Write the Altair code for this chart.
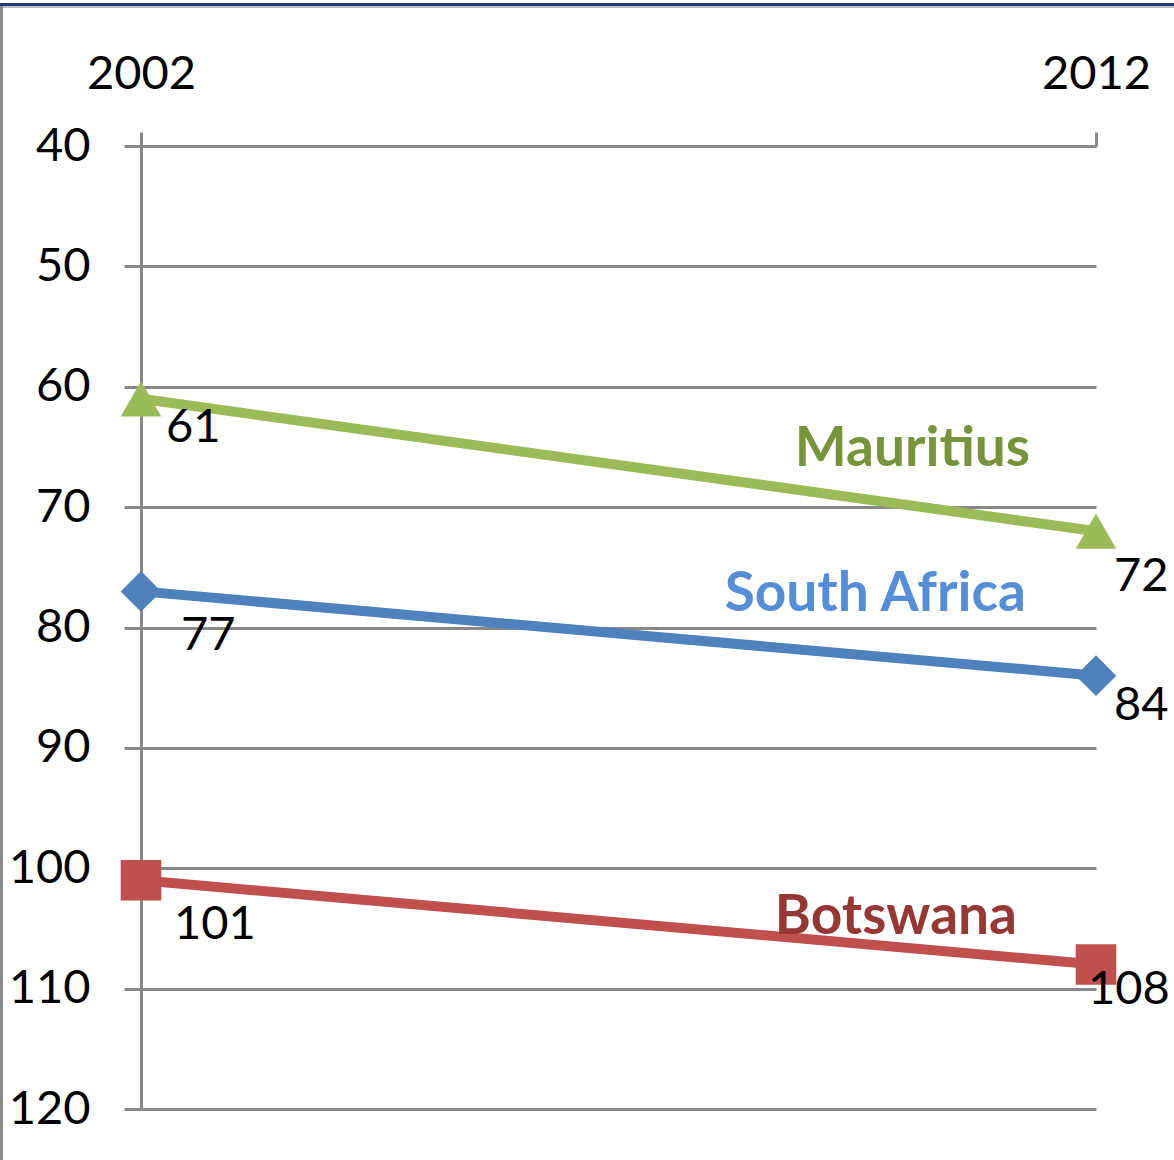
import altair as alt
import pandas as pd

# ---- data ----
years = [2002, 2012]
countries = ["Mauritius", "South Africa", "Botswana"]
mauritius = [61, 72]
south_africa = [77, 84]
botswana = [101, 108]
y_ticks = [40, 50, 60, 70, 80, 90, 100, 110, 120]

series = {"Mauritius": mauritius, "South Africa": south_africa, "Botswana": botswana}
rows = []
for c in countries:
    for yr, v in zip(years, series[c]):
        rows.append({"country": c, "year": yr, "value": v})
df = pd.DataFrame(rows)

line_colors = ["#9BBB59", "#4F81BD", "#C0504D"]
text_colors = {"Mauritius": "#77933C", "South Africa": "#558ED5", "Botswana": "#953735"}
shapes = ["triangle-up", "diamond", "square"]
FONT = "Lato"
GRID = "#888888"
LBL = 47

x_enc = alt.X(
    "year:Q",
    scale=alt.Scale(domain=[2002, 2012], nice=False, zero=False),
    axis=alt.Axis(
        orient="top", values=years, format="d", title=None, grid=False,
        domain=True, domainColor=GRID, domainWidth=3,
        ticks=True, tickSize=14, tickColor=GRID, tickWidth=3,
        labelFont=FONT, labelFontSize=LBL, labelColor="black", labelPadding=34,
        labelAlign="center", labelFlush=False, labelOverlap=False,
    ),
)
y_enc = alt.Y(
    "value:Q",
    scale=alt.Scale(domain=[40, 120], reverse=True, nice=False, zero=False),
    axis=alt.Axis(
        values=y_ticks, title=None, grid=True, gridColor=GRID, gridWidth=3,
        domain=True, domainColor=GRID, domainWidth=3,
        ticks=True, tickSize=17, tickColor=GRID, tickWidth=3,
        labelFont=FONT, labelFontSize=LBL, labelColor="black", labelPadding=34,
        labelFlush=False, labelOverlap=False,
    ),
)
color_enc = alt.Color("country:N", scale=alt.Scale(domain=countries, range=line_colors), legend=None)

base = alt.Chart(df)
lines = base.mark_line(strokeWidth=10).encode(x=x_enc, y=y_enc, color=color_enc, detail="country:N")
points = base.mark_point(filled=True, size=1650, opacity=1).encode(
    x=x_enc, y=y_enc, color=color_enc,
    shape=alt.Shape("country:N", scale=alt.Scale(domain=countries, range=shapes), legend=None),
)

# value labels next to each point (offsets are styling)
value_offsets = {
    ("Mauritius", 2002): (25, 29), ("Mauritius", 2012): (18, 46),
    ("South Africa", 2002): (40, 45), ("South Africa", 2012): (18, 30),
    ("Botswana", 2002): (33, 45), ("Botswana", 2012): (-8, 25),
}
layers = [lines, points]
for (c, yr), (dx, dy) in value_offsets.items():
    layers.append(
        base.transform_filter((alt.datum.country == c) & (alt.datum.year == yr))
        .mark_text(align="left", baseline="middle", dx=dx, dy=dy, font=FONT, fontSize=LBL, color="black")
        .encode(x=x_enc, y=y_enc, text=alt.Text("value:Q", format="d"))
    )

# series names anchored at the 2012 end of each line
name_offsets = {"Mauritius": (-66, -65), "South Africa": (-70, -65), "Botswana": (-79, -31)}
for c, (dx, dy) in name_offsets.items():
    layers.append(
        base.transform_filter((alt.datum.country == c) & (alt.datum.year == 2012))
        .mark_text(align="right", baseline="alphabetic", dx=dx, dy=dy, font=FONT,
                   fontSize=55, fontWeight="bold", color=text_colors[c])
        .encode(x=x_enc, y=y_enc, text="country:N")
    )

# outer frame (decoration)
frame_df = pd.DataFrame({"k": [0]})
top_border = alt.Chart(frame_df).mark_rule(color="#1F3A7A", strokeWidth=3).encode(
    x=alt.value(-141), x2=alt.value(1033), y=alt.value(-141.5))
top_shadow = alt.Chart(frame_df).mark_rule(color="#BFBFBF", strokeWidth=2).encode(
    x=alt.value(-141), x2=alt.value(1033), y=alt.value(-139))
left_border = alt.Chart(frame_df).mark_rule(color="#8C8C8C", strokeWidth=3).encode(
    x=alt.value(-139.5), y=alt.value(-140), y2=alt.value(1014))
layers += [top_border, top_shadow, left_border]

chart = alt.layer(*layers).properties(
    width=955, height=963,
    padding={"left": 141, "top": 146, "right": 78, "bottom": 51},
    autosize=alt.AutoSizeParams(type="none"),
    background="white",
).configure_view(stroke=None)

chart.save("out.html", embed_options={"renderer": "svg", "actions": False})
